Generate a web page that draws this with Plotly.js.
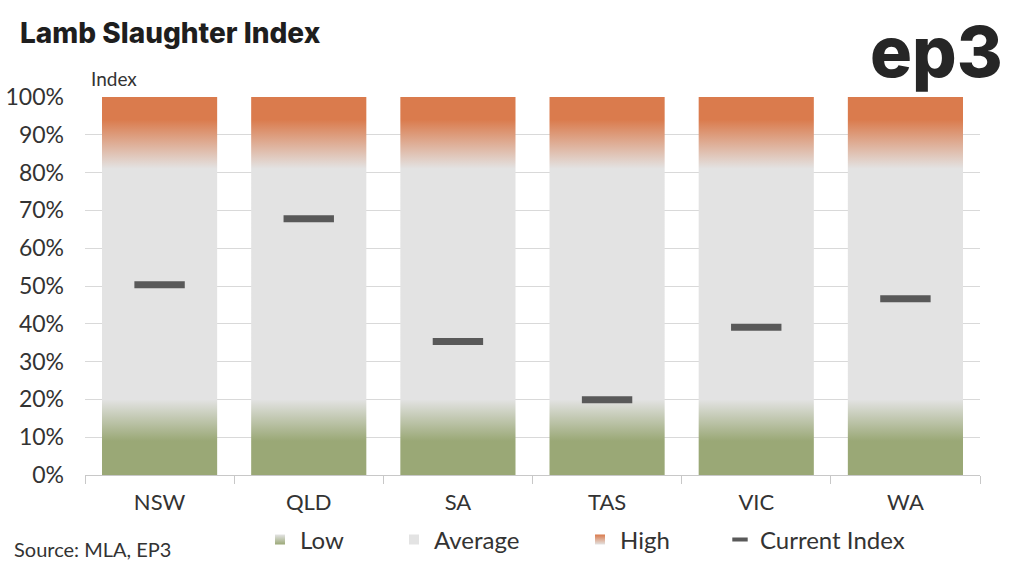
<!DOCTYPE html>
<html>
<head>
<meta charset="utf-8">
<script src="https://cdn.plot.ly/plotly-3.0.1.min.js"></script>
<style>html,body{margin:0;padding:0;background:#fff;}#chart{width:1024px;height:568px;}</style>
</head>
<body>
<div id="chart"></div>
<script>
// ---- data ----
const categories = ['NSW', 'QLD', 'SA', 'TAS', 'VIC', 'WA'];
const currentIndex = [50.3, 67.8, 35.3, 19.9, 39.1, 46.6];
const lowBand = [0, 20];      // Low range (%)
const averageBand = [20, 80]; // Average range (%)
const highBand = [80, 100];   // High range (%)
const legendNames = ['Low', 'Average', 'High', 'Current Index'];

// ---- style ----
const GREEN = '#9AA876', GRAY = '#E3E3E3', ORANGE = '#DA7B4D', MARK = '#595959';
const FONT = 'Lato, "Open Sans", sans-serif';
const BOLDFONT = 'Inter, Lato, sans-serif';
const HALF = 0.386;
const L = 85, T = 97, R = 44, B = 93, W = 1024, H = 568;
const PW = W - L - R, PH = H - T - B;
const paperX = v => (v - L) / PW;
const paperY = v => (H - B - v) / PH;

const idx = categories.map((c, i) => i);
const yMin = lowBand[0], yMax = highBand[1], span = yMax - yMin;
// column polygons spanning the full band range
const px = [], py = [];
idx.forEach(i => {
  px.push(i - HALF, i + HALF, i + HALF, i - HALF, i - HALF, null);
  py.push(yMin, yMin, yMax, yMax, yMin, null);
});
const f = v => (v - yMin) / span;
const colorscale = [
  [0, GREEN],
  [f(lowBand[1]) - 0.11, GREEN],
  [f(lowBand[1]), GRAY],
  [f(averageBand[1]) + 0.01, GRAY],
  [f(highBand[1]) - 0.06, ORANGE],
  [1, ORANGE]
];

const traces = [
  {
    type: 'scatter', mode: 'none', x: px, y: py, fill: 'toself',
    fillgradient: {type: 'vertical', colorscale: colorscale, start: yMin, stop: yMax},
    line: {width: 0}, showlegend: false, hoverinfo: 'skip'
  },
  {
    type: 'scatter', mode: 'markers', x: idx, y: currentIndex, name: legendNames[3],
    marker: {symbol: 'line-ew', size: 36, line: {width: 7, color: MARK}, color: MARK},
    showlegend: false
  },
  // legend entries
  {type: 'scatter', mode: 'markers', x: [null], y: [null], name: legendNames[0], legend: 'legend',
   marker: {symbol: 'square', size: 10, color: GRAY, gradient: {type: 'vertical', color: GREEN}}},
  {type: 'scatter', mode: 'markers', x: [null], y: [null], name: legendNames[1], legend: 'legend2',
   marker: {symbol: 'square', size: 10, color: GRAY}},
  {type: 'scatter', mode: 'markers', x: [null], y: [null], name: legendNames[2], legend: 'legend3',
   marker: {symbol: 'square', size: 10, color: ORANGE, gradient: {type: 'vertical', color: GRAY}}},
  {type: 'scatter', mode: 'markers', x: [null], y: [null], name: legendNames[3], legend: 'legend4',
   marker: {symbol: 'line-ew', size: 11, line: {width: 4, color: MARK}, color: MARK}}
];

const legendBase = (xpx) => ({
  x: xpx / W, xref: 'container', xanchor: 'left',
  y: 1 - 540 / H, yref: 'container', yanchor: 'middle',
  orientation: 'h', bgcolor: 'rgba(0,0,0,0)', borderwidth: 0,
  font: {family: FONT, size: 24, color: '#333'}
});

const layout = {
  width: W, height: H,
  paper_bgcolor: '#fff', plot_bgcolor: '#fff',
  margin: {l: L, r: R, t: T, b: B},
  font: {family: FONT, color: '#333'},
  title: {
    text: 'Lamb Slaughter Index', xref: 'container', x: 20 / W, xanchor: 'left',
    yref: 'container', y: 1 - 33 / H, yanchor: 'middle',
    font: {family: BOLDFONT, size: 28, weight: 800, color: '#1e1e1e'}
  },
  xaxis: {
    range: [-0.5, categories.length - 0.5], tickmode: 'array', tickvals: idx, ticktext: categories,
    ticks: '', showgrid: false, zeroline: false, showline: true, linecolor: '#c8c8c8', linewidth: 1,
    tickfont: {family: FONT, size: 22, color: '#333'}, ticklabelstandoff: 8,
    minor: {tickmode: 'array', tickvals: idx.concat([categories.length]).map(v => v - 0.5),
            ticks: 'outside', ticklen: 8, tickcolor: '#c8c8c8', tickwidth: 1, showgrid: false},
    fixedrange: true
  },
  yaxis: {
    range: [0, 100], dtick: 10, ticksuffix: '%', showgrid: true, gridcolor: '#d9d9d9', gridwidth: 1,
    zeroline: false, showline: false, ticks: '',
    tickfont: {family: FONT, size: 23, color: '#333'}, ticklabelstandoff: 20, fixedrange: true
  },
  legend: legendBase(260),
  legend2: legendBase(394),
  legend3: legendBase(580),
  legend4: legendBase(720),
  annotations: [
    {text: 'Index', xref: 'paper', yref: 'paper', x: paperX(89), y: paperY(78), xanchor: 'left', yanchor: 'middle',
     showarrow: false, font: {family: FONT, size: 19, color: '#333'}},
    {text: 'Source: MLA, EP3', xref: 'paper', yref: 'paper', x: paperX(12), y: paperY(549),
     xanchor: 'left', yanchor: 'middle', showarrow: false, font: {family: FONT, size: 20, color: '#333'}},
    {text: 'ep3', xref: 'paper', yref: 'paper', x: paperX(1005), y: paperY(52),
     xanchor: 'right', yanchor: 'middle', showarrow: false,
     font: {family: BOLDFONT, size: 70, weight: 800, color: '#262626'}}
  ],
  showlegend: true
};

Plotly.newPlot('chart', traces, layout, {displayModeBar: false, staticPlot: true});
</script>
</body>
</html>
